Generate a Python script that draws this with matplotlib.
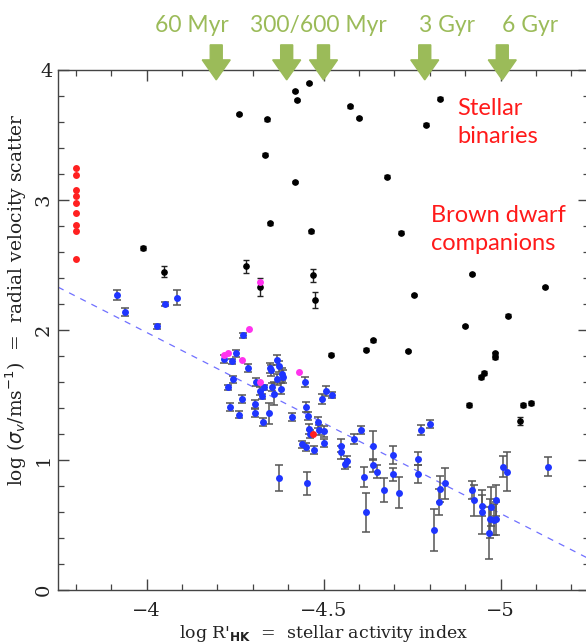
import matplotlib
matplotlib.use("Agg")
import matplotlib.pyplot as plt
import matplotlib.transforms as mtransforms
from matplotlib.patches import Polygon

# --- data ---
# stars with planets / low-mass companions (blue, with error bars)
blue_x = [-3.916, -3.94, -4.053, -4.086, -4.03, -4.273, -4.254, -4.218, -4.242, -4.288,
          -4.243, -4.23, -4.235, -4.26, -4.27, -4.307, -4.307, -4.31, -4.32, -4.325,
          -4.333, -4.33, -4.345, -4.35, -4.352, -4.354, -4.36, -4.37, -4.375, -4.37,
          -4.383, -4.387, -4.38, -4.449, -4.45, -4.456, -4.41, -4.44, -4.45, -4.46,
          -4.373, -4.462, -4.485, -4.487, -4.50, -4.474, -4.50, -4.453, -4.495, -4.507,
          -4.524, -4.549, -4.55, -4.56, -4.567, -4.585, -4.605, -4.613, -4.619, -4.639,
          -4.639, -4.651, -4.672, -4.696, -4.695, -4.714, -4.768, -4.768, -4.776, -4.80,
          -4.813, -4.828, -4.826, -4.844, -4.919, -4.925, -4.948, -4.948, -4.969, -4.967,
          -4.974, -4.982, -4.988, -4.987, -5.007, -5.018, -5.135]
blue_y = [2.27, 2.14, 2.20, 2.25, 2.03, 1.96, 1.82, 1.78, 1.76, 1.71,
          1.62, 1.56, 1.41, 1.35, 1.47, 1.43, 1.36, 1.60, 1.53, 1.49,
          1.56, 1.29, 1.36, 1.71, 1.69, 1.56, 1.51, 1.77, 1.72, 1.62,
          1.66, 1.64, 1.55, 1.60, 1.41, 1.34, 1.33, 1.12, 1.10, 1.24,
          0.86, 1.20, 1.29, 1.23, 1.22, 1.08, 1.13, 0.82, 1.47, 1.53,
          1.50, 1.11, 1.06, 0.97, 0.99, 1.16, 1.23, 0.87, 0.60, 1.11,
          0.96, 0.91, 0.77, 1.04, 0.89, 0.75, 1.01, 0.89, 1.23, 1.28,
          0.46, 0.78, 0.68, 0.82, 0.77, 0.69, 0.65, 0.60, 0.55, 0.44,
          0.64, 0.54, 0.55, 0.69, 0.95, 0.91, 0.95]
blue_err = [0.04, 0.03, 0.015, 0.055, 0.02, 0.02, 0.03, 0.03, 0.02, 0.03,
            0.03, 0.02, 0.03, 0.03, 0.03, 0.03, 0.03, 0.03, 0.03, 0.02,
            0.02, 0.03, 0.08, 0.04, 0.04, 0.03, 0.09, 0.04, 0.04, 0.04,
            0.05, 0.05, 0.04, 0.04, 0.04, 0.03, 0.03, 0.03, 0.03, 0.04,
            0.10, 0.03, 0.04, 0.04, 0.04, 0.03, 0.03, 0.09, 0.04, 0.04,
            0.02, 0.05, 0.05, 0.04, 0.04, 0.04, 0.03, 0.08, 0.15, 0.11,
            0.05, 0.05, 0.09, 0.07, 0.05, 0.12, 0.05, 0.07, 0.04, 0.03,
            0.16, 0.10, 0.10, 0.12, 0.07, 0.12, 0.08, 0.17, 0.15, 0.20,
            0.15, 0.12, 0.13, 0.12, 0.08, 0.15, 0.07]

# stellar binaries / brown dwarfs (black)
black_x = [-3.99, -4.05, -4.26, -4.34, -4.42, -4.425, -4.46, -4.575, -4.60, -4.83,
           -4.79, -4.335, -4.42, -4.68, -4.35, -4.465, -4.72, -4.28, -4.47, -4.475,
           -4.32, -4.755, -4.92, -5.125, -5.02, -4.90, -4.64, -4.62, -4.74, -4.52,
           -4.985, -4.985, -4.946, -4.953, -4.91, -5.056, -5.064, -5.085]
black_y = [2.63, 2.45, 3.66, 3.62, 3.84, 3.77, 3.90, 3.72, 3.63, 3.78,
           3.58, 3.35, 3.14, 3.18, 2.82, 2.76, 2.75, 2.49, 2.42, 2.23,
           2.33, 2.27, 2.43, 2.33, 2.11, 2.03, 1.92, 1.85, 1.84, 1.81,
           1.82, 1.79, 1.64, 1.67, 1.42, 1.30, 1.42, 1.44]
black_err = [0.015, 0.04, 0.01, 0.01, 0.01, 0.01, 0.01, 0.01, 0.01, 0.01,
             0.01, 0.01, 0.01, 0.01, 0.01, 0.01, 0.01, 0.05, 0.05, 0.06,
             0.07, 0.01, 0.01, 0.01, 0.01, 0.01, 0.01, 0.01, 0.01, 0.01,
             0.01, 0.01, 0.015, 0.015, 0.015, 0.03, 0.015, 0.015]

magenta_x = [-4.32, -4.29, -4.22, -4.23, -4.27, -4.32, -4.43]
magenta_y = [2.37, 2.01, 1.81, 1.82, 1.77, 1.60, 1.68]

red_x = [-3.80, -3.80, -3.80, -3.80, -3.80, -3.80, -3.80, -3.80, -3.80, -4.47]
red_y = [3.25, 3.19, 3.08, 3.03, 2.98, 2.90, 2.81, 2.76, 2.55, 1.20]

# dashed activity relation (end points)
fit_x = [-3.75, -5.25]
fit_y = [2.33, 0.24]

# age markers
age_labels = ["60 Myr", "300/600 Myr", "3 Gyr", "6 Gyr"]
age_label_x = [192, 318, 447, 530]  # label centres, pixels
arrow_x = [-4.197, -4.396, -4.50, -4.786, -5.005]

green = "#9bbb59"

fig = plt.figure(figsize=(5.86, 6.44), dpi=100)
ax = fig.add_axes([58 / 586, 54 / 644, 531 / 586, 520 / 644])

ax.plot(fit_x, fit_y, ls=(0, (5, 5)), color="#7070ff", lw=0.9, zorder=1)

ax.errorbar(black_x, black_y, yerr=black_err, fmt="o", ms=3.8, color="black",
            ecolor="#222222", elinewidth=1, capsize=2.5, capthick=1, zorder=3)
ax.errorbar(blue_x, blue_y, yerr=blue_err, fmt="none", ecolor="#555555",
            elinewidth=1.1, capsize=3, capthick=1.1, zorder=2)
ax.plot(blue_x, blue_y, "o", ms=5, color="#1f35ff", mec="none", zorder=4)
ax.plot(magenta_x, magenta_y, "o", ms=5, color="#ff33ee", mec="none", zorder=5)
ax.plot(red_x, red_y, "o", ms=5, color="#ff2020", mec="none", zorder=5)

ax.set_xlim(-3.75, -5.25)
ax.set_ylim(0, 4)
ax.set_xticks([-4, -4.5, -5])
ax.set_xticklabels(["\u22124", "\u22124.5", "\u22125"])
ax.set_xticks([-3.8, -3.9, -4.1, -4.2, -4.3, -4.4, -4.6, -4.7, -4.8, -4.9, -5.1, -5.2],
              minor=True)
ax.set_yticks([0, 1, 2, 3, 4])
ax.set_yticks([0.2, 0.4, 0.6, 0.8, 1.2, 1.4, 1.6, 1.8, 2.2, 2.4, 2.6, 2.8,
               3.2, 3.4, 3.6, 3.8], minor=True)
ax.tick_params(which="both", direction="in", top=True, right=True, color="#444444")
ax.tick_params(which="major", length=8, width=1)
ax.tick_params(which="minor", length=4, width=0.9)
ax.tick_params(axis="x", labelsize=14, pad=9)
ax.tick_params(axis="y", labelsize=14, pad=4)
for lab in ax.get_xticklabels() + ax.get_yticklabels():
    lab.set_family("DejaVu Serif")
    lab.set_fontweight("light")
    lab.set_color("#222222")
for lab in ax.get_yticklabels()[:-1]:
    lab.set_rotation(90)
    lab.set_va("center")

for sp in ax.spines.values():
    sp.set_color("#444444")
    sp.set_linewidth(1)

ax.set_xlabel(r"log R'$_{\mathbf{HK}}$  =  stellar activity index", family="DejaVu Serif",
              fontsize=12.5, labelpad=2, color="#222222")
fig.text(16 / 586, 1 - 300 / 644, r"log ($\sigma_v$/ms$^{-1}$)  =  radial velocity scatter",
         family="DejaVu Serif", fontsize=13.5, rotation=90, ha="center", va="center",
         color="#222222")

# green age arrows
arrow_shape = [(0, 0), (-0.14, 0.2), (-0.06, 0.2), (-0.06, 0.35), (0.06, 0.35),
               (0.06, 0.2), (0.14, 0.2)]
for xa in arrow_x:
    tr = fig.dpi_scale_trans + mtransforms.ScaledTranslation(
        xa, 0.981, ax.get_xaxis_transform())
    ax.add_patch(Polygon(arrow_shape, closed=True, color=green, transform=tr,
                         clip_on=False, zorder=6))
for lab, xp in zip(age_labels, age_label_x):
    fig.text(xp / 586, 1 - 32 / 644, lab, color=green, fontsize=16.5, family="Lato",
             ha="center", va="baseline")

# red annotations (baseline of the last line)
ax.text(457 / 586, 1 - 143 / 644, "Stellar\nbinaries", transform=fig.transFigure,
        color="#ff1a1a", fontsize=17, family="Lato", ha="left", va="baseline",
        linespacing=1.4)
ax.text(431 / 586, 1 - 250 / 644, "Brown dwarf\ncompanions", transform=fig.transFigure,
        color="#ff1a1a", fontsize=17, family="Lato", ha="left", va="baseline",
        linespacing=1.4)

fig.savefig("out.png", dpi=100)
